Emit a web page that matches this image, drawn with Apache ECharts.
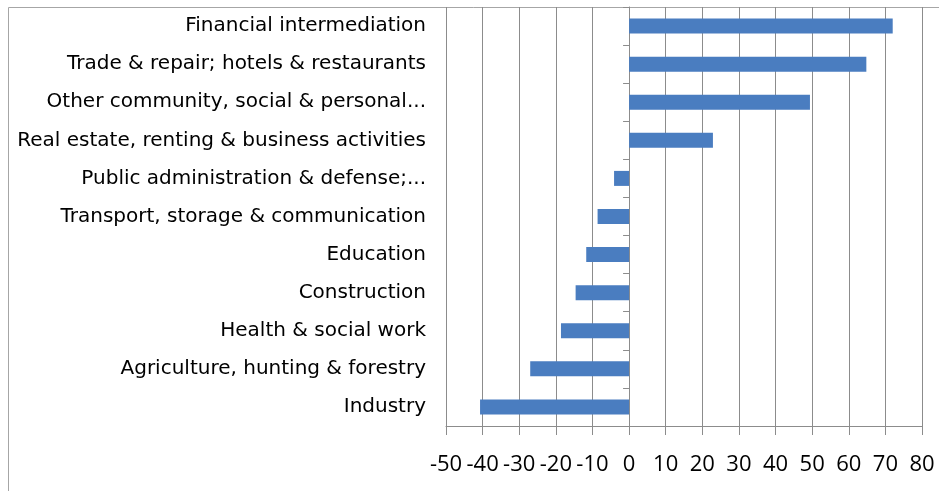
<!DOCTYPE html>
<html><head><meta charset="utf-8">
<script src="https://cdn.jsdelivr.net/npm/echarts@6/dist/echarts.min.js"></script>
<style>html,body{margin:0;padding:0;background:#fff}#c{width:939px;height:491px}</style>
</head><body><div id="c"></div>
<script>
var categories = [
  "Financial intermediation",
  "Trade & repair; hotels & restaurants",
  "Other community, social & personal...",
  "Real estate, renting & business activities",
  "Public administration & defense;...",
  "Transport, storage & communication",
  "Education",
  "Construction",
  "Health & social work",
  "Agriculture, hunting & forestry",
  "Industry"
];
var values = [72.0, 64.8, 49.4, 22.9, -4.1, -8.6, -11.7, -14.6, -18.6, -27.0, -40.7];
var xMin = -50, xMax = 80, xStep = 10;

var chart = echarts.init(document.getElementById('c'), null, {renderer: 'canvas'});
var font = '"Open Sans", Lato, sans-serif';
var yfont = '"DejaVu Sans", "Open Sans", sans-serif';
chart.setOption({
  animation: false,
  backgroundColor: '#fff',
  grid: {left: 446, right: 17, top: 7, bottom: 65, containLabel: false},
  xAxis: {
    type: 'value', min: xMin, max: xMax, interval: xStep,
    axisLine: {show: true, onZero: false, lineStyle: {color: '#8c8c8c', width: 1}},
    axisTick: {show: true, length: 9, lineStyle: {color: '#8c8c8c'}},
    splitLine: {show: true, lineStyle: {color: '#8c8c8c', width: 1}},
    axisLabel: {color: '#000', fontFamily: font, fontSize: 22, margin: 28}
  },
  yAxis: [{
    type: 'category', data: categories, inverse: true, position: 'left',
    axisLine: {show: false, onZero: false}, axisTick: {show: false},
    axisLabel: {color: '#000', fontFamily: yfont, fontSize: 20, margin: 20, interval: 0}
  }, {
    type: 'category', data: categories, inverse: true, position: 'left',
    axisLine: {show: true, onZero: true, lineStyle: {color: '#8c8c8c', width: 1}},
    axisTick: {show: true, length: 6, interval: 0, lineStyle: {color: '#8c8c8c'}},
    axisLabel: {show: false}
  }],
  series: [{
    type: 'bar', data: values, yAxisIndex: 0, barWidth: 15,
    itemStyle: {color: '#4a7dc0'}
  }],
  graphic: [
    {type: 'line', shape: {x1: 8.5, y1: 7.5, x2: 939, y2: 7.5}, style: {stroke: '#a6a6a6', lineWidth: 1}, silent: true},
    {type: 'line', shape: {x1: 8.5, y1: 7.5, x2: 8.5, y2: 491}, style: {stroke: '#a6a6a6', lineWidth: 1}, silent: true}
  ]
});
</script></body></html>
